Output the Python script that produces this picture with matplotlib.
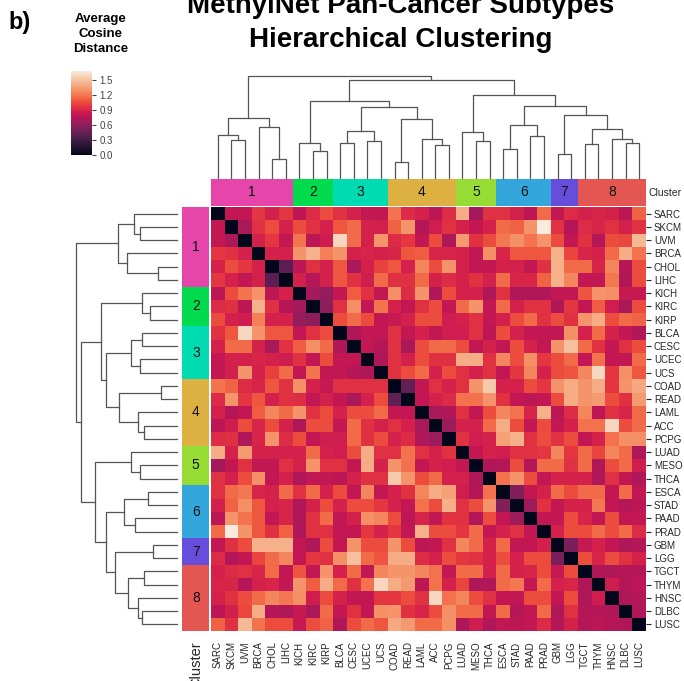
import numpy as np
import matplotlib
matplotlib.use("Agg")
import matplotlib.pyplot as plt
import seaborn as sns
from matplotlib.colors import ListedColormap

plt.rcParams['font.family'] = ['Liberation Sans', 'DejaVu Sans']

# --- data ---
cancers = ['SARC', 'SKCM', 'UVM', 'BRCA', 'CHOL', 'LIHC', 'KICH', 'KIRC',
           'KIRP', 'BLCA', 'CESC', 'UCEC', 'UCS', 'COAD', 'READ', 'LAML',
           'ACC', 'PCPG', 'LUAD', 'MESO', 'THCA', 'ESCA', 'STAD', 'PAAD',
           'PRAD', 'GBM', 'LGG', 'TGCT', 'THYM', 'HNSC', 'DLBC', 'LUSC']

cluster_names = ['1', '2', '3', '4', '5', '6', '7', '8']
cluster_sizes = [6, 3, 4, 5, 3, 4, 2, 5]
cluster_colors = ['#e645a9', '#00dc4e', '#00dbb2', '#dcb142', '#97dc35',
                  '#33a6dc', '#664ddc', '#e45651']

# upper triangle of the average cosine distance matrix (row i, cols i+1..)
upper = [
    [0.80, 0.80, 0.97, 0.88, 0.97, 0.78, 0.92, 1.05, 0.95, 0.88, 0.80, 0.80, 1.18, 0.92, 0.88, 0.78,
     0.93, 1.40, 0.68, 0.95, 0.95, 0.87, 0.78, 1.15, 0.80, 0.92, 0.88, 0.90, 0.88, 0.78, 1.12],
    [0.70, 0.95, 1.05, 0.88, 1.05, 0.95, 0.88, 1.08, 1.15, 0.88, 0.87, 1.12, 1.30, 0.75, 0.85,
     0.95, 0.88, 0.80, 0.88, 1.15, 1.12, 1.30, 1.67, 0.95, 0.75, 0.92, 0.90, 0.95, 0.87, 0.95],
    [0.88, 0.97, 0.80, 1.18, 0.78, 0.85, 1.58, 1.15, 0.88, 1.30, 0.92, 0.97, 0.80, 1.05, 0.72,
     1.32, 0.95, 1.05, 1.20, 1.28, 1.18, 1.30, 1.05, 0.80, 0.95, 0.75, 1.05, 1.03, 1.45],
    [0.88, 0.88, 1.30, 1.42, 1.22, 1.30, 0.88, 0.90, 0.88, 0.90, 1.08, 1.10, 0.90, 0.90, 0.88,
     0.80, 1.28, 0.90, 1.08, 1.08, 1.08, 1.42, 1.02, 0.90, 0.88, 1.15, 1.40, 1.18],
    [0.40, 0.78, 0.95, 0.88, 1.08, 0.70, 0.88, 1.00, 1.08, 0.88, 1.25, 1.05, 1.30, 0.88, 0.80,
     0.80, 0.88, 0.88, 0.80, 0.95, 1.42, 1.15, 1.15, 0.90, 1.25, 0.75, 1.05],
    [0.88, 0.75, 0.88, 1.08, 0.95, 0.85, 1.15, 0.95, 0.95, 1.15, 0.88, 0.93, 0.88, 0.95, 0.88,
     1.15, 0.90, 0.90, 1.12, 1.42, 1.25, 0.80, 0.80, 1.20, 0.72, 1.05],
    [0.68, 0.62, 0.80, 1.10, 0.95, 0.80, 1.28, 0.93, 1.30, 0.72, 1.05, 0.88, 0.88, 0.72, 0.95,
     0.72, 0.72, 0.72, 0.80, 0.80, 1.07, 1.30, 1.28, 0.82, 0.82],
    [0.60, 0.95, 1.28, 0.80, 1.18, 0.88, 0.80, 0.95, 1.05, 0.80, 1.15, 1.30, 0.80, 1.15, 0.88,
     0.95, 0.95, 0.72, 0.97, 0.80, 1.10, 0.85, 0.70, 1.05],
    [1.05, 1.15, 1.05, 0.80, 0.82, 0.88, 1.05, 1.05, 0.85, 0.88, 0.95, 0.80, 0.88, 1.05, 1.15,
     0.95, 1.05, 0.95, 1.30, 1.40, 1.05, 1.15, 1.12],
    [0.72, 0.80, 0.80, 0.95, 0.80, 0.88, 0.80, 0.85, 0.85, 0.95, 0.78, 1.05, 0.88, 0.80, 0.80,
     0.80, 1.28, 0.88, 1.15, 0.88, 0.80, 0.72],
    [0.80, 0.75, 0.95, 0.70, 1.05, 1.15, 1.15, 1.05, 0.80, 0.88, 0.80, 1.05, 0.88, 0.80, 1.30,
     1.48, 1.15, 0.95, 0.80, 0.95, 1.05],
    [0.72, 0.95, 0.88, 1.05, 0.95, 0.95, 1.40, 1.40, 0.95, 1.25, 1.05, 1.28, 0.97, 1.05, 1.15,
     0.80, 1.17, 0.80, 0.80, 1.15],
    [0.95, 1.05, 1.15, 0.88, 1.05, 0.95, 0.88, 0.95, 0.80, 0.97, 1.25, 0.88, 1.05, 1.07, 1.25,
     1.58, 0.97, 1.28, 1.08],
    [0.42, 0.80, 0.95, 0.88, 0.95, 1.30, 1.52, 0.88, 0.88, 1.05, 0.97, 1.30, 1.40, 1.30, 1.40,
     0.97, 1.30, 1.38],
    [0.80, 0.88, 0.92, 1.17, 1.17, 1.30, 0.95, 0.80, 0.78, 0.80, 1.05, 1.40, 1.30, 1.32, 1.05,
     0.95, 1.32],
    [0.70, 0.72, 0.95, 0.80, 1.05, 1.25, 1.17, 0.90, 1.42, 0.78, 0.93, 1.25, 0.78, 0.95, 0.90, 1.15],
    [0.65, 0.88, 0.88, 1.15, 1.40, 1.05, 0.80, 1.05, 0.80, 0.88, 1.17, 1.17, 1.58, 1.05, 1.15],
    [0.95, 0.85, 0.88, 1.35, 1.42, 0.95, 1.05, 0.95, 1.05, 0.80, 0.88, 1.17, 1.28, 1.28],
    [0.80, 0.88, 0.85, 0.95, 0.95, 0.97, 1.25, 0.97, 1.15, 1.02, 1.25, 1.15, 0.72],
    [0.72, 0.75, 1.05, 0.75, 1.15, 1.15, 0.95, 1.15, 0.72, 1.05, 1.15, 0.85],
    [1.17, 1.30, 1.05, 0.80, 0.88, 0.88, 0.88, 0.72, 0.95, 0.80, 0.72],
    [0.55, 0.80, 0.88, 1.15, 1.05, 1.15, 1.15, 0.80, 1.15, 0.80],
    [0.65, 0.95, 0.80, 0.88, 0.88, 1.20, 0.80, 0.75, 0.78],
    [0.80, 0.80, 1.05, 0.90, 0.80, 1.05, 0.80, 0.80],
    [0.88, 1.05, 1.05, 1.15, 1.05, 1.15, 0.92],
    [0.52, 0.82, 0.88, 0.80, 0.72, 0.75],
    [1.05, 0.90, 1.05, 0.95, 0.88],
    [0.72, 0.72, 0.75, 0.75],
    [0.85, 0.75, 0.78],
    [0.72, 0.75],
    [0.72],
]

# linkage: (child a, child b, merge height); ids >= 32 are earlier merges
merges = [
    (1, 2, 0.370), (0, 32, 0.425), (4, 5, 0.190), (3, 34, 0.500), (33, 35, 0.585),
    (7, 8, 0.267), (6, 37, 0.343), (9, 10, 0.350), (11, 12, 0.364), (39, 40, 0.460),
    (13, 14, 0.160), (16, 17, 0.325), (15, 43, 0.385), (42, 44, 0.575), (41, 45, 0.700),
    (38, 46, 0.755), (19, 20, 0.362), (18, 48, 0.457), (21, 22, 0.287), (23, 24, 0.413),
    (50, 51, 0.523), (25, 26, 0.241), (27, 28, 0.331), (30, 31, 0.343), (29, 55, 0.388),
    (54, 56, 0.482), (53, 57, 0.616), (52, 58, 0.705), (49, 59, 0.810), (47, 60, 0.955),
    (36, 61, 1.000),
]

cbar_ticks = [0.0, 0.3, 0.6, 0.9, 1.2, 1.5]

# --- build matrix ---
n = len(cancers)
dist = np.zeros((n, n))
for i, row in enumerate(upper):
    dist[i, i + 1:] = row
    dist[i + 1:, i] = row

cluster_id = np.repeat(np.arange(len(cluster_sizes)), cluster_sizes)
cluster_mid = np.cumsum(cluster_sizes) - np.array(cluster_sizes) / 2


def dendro_segments(merges, n):
    pos = {i: i + 0.5 for i in range(n)}
    hgt = {i: 0.0 for i in range(n)}
    segs = []
    for k, (a, b, h) in enumerate(merges):
        segs.append(([pos[a], pos[a], pos[b], pos[b]], [hgt[a], h, h, hgt[b]]))
        pos[n + k] = (pos[a] + pos[b]) / 2
        hgt[n + k] = h
    return segs


W, H = 684, 681


def rect(x0, y0, x1, y1):
    return [x0 / W, 1 - y1 / H, (x1 - x0) / W, (y1 - y0) / H]


fig = plt.figure(figsize=(W / 100, H / 100), dpi=100)
cmap = sns.color_palette("rocket", as_cmap=True)
ccmap = ListedColormap(cluster_colors)
text_col = '#262626'

# heatmap
ax = fig.add_axes(rect(211, 207, 646, 631))
mesh = ax.pcolormesh(dist, cmap=cmap, vmin=0, vmax=dist.max())
ax.set_xlim(0, n)
ax.set_ylim(n, 0)
for s in ax.spines.values():
    s.set_visible(False)
ax.yaxis.tick_right()
ax.set_yticks(np.arange(n) + 0.5)
ax.set_yticklabels(cancers, fontsize=7, color=text_col)
ax.set_xticks(np.arange(n) + 0.5)
ax.set_xticklabels(cancers, fontsize=7, color=text_col, rotation=90)
ax.tick_params(axis='y', length=3.6, width=0.8, color=text_col, pad=2)
ax.tick_params(axis='x', length=0, pad=7.5)

# cluster colour bars
axr = fig.add_axes(rect(182.3, 207, 209.3, 631))
axr.pcolormesh(cluster_id[:, None], cmap=ccmap, vmin=-0.5, vmax=len(cluster_colors) - 0.5)
axr.set_ylim(n, 0)
axr.set_yticks([])
axr.set_xticks([0.5])
axr.set_xticklabels(['Cluster'], rotation=90, fontsize=10.5, color=text_col)
axr.tick_params(axis='x', length=0, pad=7.5)
for s in axr.spines.values():
    s.set_visible(False)
for name, m in zip(cluster_names, cluster_mid):
    axr.text(0.5, m, name, ha='center', va='center', fontsize=10, color='#111111')

axc = fig.add_axes(rect(211, 179, 646, 205.5))
axc.pcolormesh(cluster_id[None, :], cmap=ccmap, vmin=-0.5, vmax=len(cluster_colors) - 0.5)
axc.set_xlim(0, n)
axc.set_xticks([])
axc.yaxis.tick_right()
axc.set_yticks([0.5])
axc.set_yticklabels(['Cluster'], fontsize=7.5, color=text_col)
axc.tick_params(axis='y', length=0, pad=2)
for s in axc.spines.values():
    s.set_visible(False)
for name, m in zip(cluster_names, cluster_mid):
    axc.text(m, 0.5, name, ha='center', va='center', fontsize=10, color='#111111')

# dendrograms
segs = dendro_segments(merges, n)
axd = fig.add_axes(rect(211, 75.7, 646, 178.5))
for xs, ys in segs:
    axd.plot(xs, ys, color='#555555', lw=0.9, clip_on=False)
axd.set_xlim(0, n)
axd.set_ylim(0, 1)
axd.axis('off')

axl = fig.add_axes(rect(76, 207, 177, 631))
for xs, ys in segs:
    axl.plot(ys, xs, color='#555555', lw=0.9, clip_on=False)
axl.set_ylim(n, 0)
axl.set_xlim(1, 0)
axl.axis('off')

# colorbar
cax = fig.add_axes(rect(71, 71, 92.3, 155))
cb = fig.colorbar(mesh, cax=cax, ticks=cbar_ticks)
cb.outline.set_visible(False)
cb.ax.set_yticklabels([f'{t:.1f}' for t in cbar_ticks])
cax.tick_params(labelsize=7, length=3, width=0.8, colors='#444444', pad=2)

# texts (multi-line: baseline refers to the last line)
fig.text(100.5 / W, 1 - 52 / H, 'Average\nCosine\nDistance', ha='center', va='baseline',
         fontsize=9.5, fontweight='bold', linespacing=1.35)
fig.text(8 / W, 1 - 29 / H, 'b)', ha='left', va='baseline', fontsize=17, fontweight='bold')
fig.text(401 / W, 1 - 46.7 / H, 'MethylNet Pan-Cancer Subtypes\nHierarchical Clustering',
         ha='center', va='baseline', fontsize=20, fontweight='bold', linespacing=1.38)

fig.savefig('out.png', dpi=100)
